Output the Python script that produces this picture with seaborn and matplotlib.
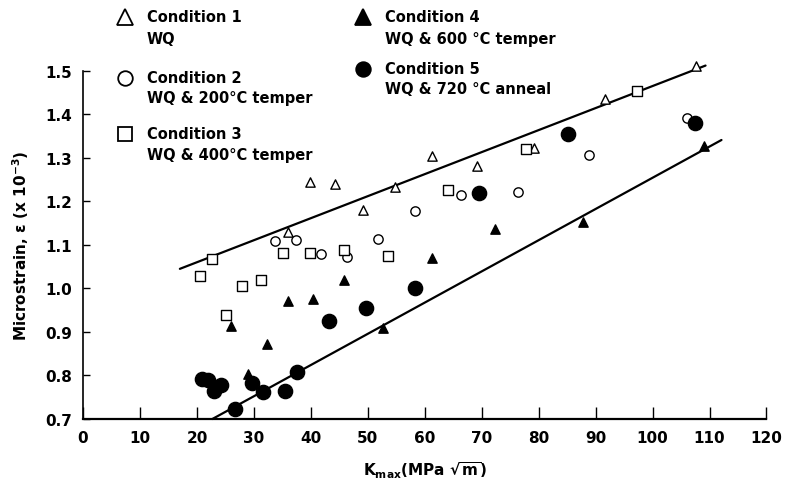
import numpy as np
import pandas as pd
import matplotlib
matplotlib.use("Agg")
import matplotlib.pyplot as plt
import seaborn as sns

# Condition 1: WQ (open triangles)
c1_k = [35.9, 39.9, 44.3, 49.2, 54.8, 61.3, 69.2, 79.1, 91.6, 107.6]
c1_e = [1.130, 1.245, 1.240, 1.180, 1.233, 1.305, 1.282, 1.323, 1.436, 1.510]

# Condition 2: WQ & 200C temper (open circles)
c2_k = [33.7, 37.4, 41.7, 46.4, 51.8, 58.2, 66.3, 76.3, 88.9, 106.0]
c2_e = [1.109, 1.111, 1.079, 1.072, 1.114, 1.178, 1.215, 1.222, 1.307, 1.392]

# Condition 3: WQ & 400C temper (open squares)
c3_k = [20.6, 22.7, 25.1, 27.9, 31.3, 35.1, 39.9, 45.9, 53.6, 64.0, 77.7, 97.2]
c3_e = [1.029, 1.068, 0.939, 1.006, 1.020, 1.082, 1.082, 1.089, 1.075, 1.226, 1.321, 1.454]

# Condition 4: WQ & 600C temper (filled triangles)
c4_k = [26.0, 29.0, 32.3, 35.9, 40.4, 45.9, 52.7, 61.3, 72.4, 87.7, 109.0]
c4_e = [0.914, 0.803, 0.872, 0.971, 0.976, 1.020, 0.909, 1.070, 1.137, 1.153, 1.328]

# Condition 5: WQ & 720C anneal (filled circles)
c5_k = [20.9, 22.0, 23.0, 24.3, 26.7, 29.7, 31.6, 35.5, 37.6, 43.1, 49.6, 58.3, 69.6, 85.2, 107.4]
c5_e = [0.792, 0.790, 0.764, 0.778, 0.723, 0.783, 0.762, 0.764, 0.808, 0.925, 0.955, 1.001, 1.220, 1.355, 1.380]

# bounding lines (end points)
upper_k = [17.0, 109.3]
upper_e = [1.045, 1.512]
lower_k = [22.7, 112.1]
lower_e = [0.700, 1.341]

x_ticks = list(range(0, 130, 10))
y_ticks = [0.7, 0.8, 0.9, 1.0, 1.1, 1.2, 1.3, 1.4, 1.5]

sns.set_style("ticks")
plt.rcParams['font.family'] = ['DejaVu Sans']
plt.rcParams['font.weight'] = 'bold'
plt.rcParams['axes.labelweight'] = 'bold'
plt.rcParams['mathtext.default'] = 'bf'
for key in ['text.color', 'axes.labelcolor', 'xtick.color', 'ytick.color', 'axes.edgecolor']:
    plt.rcParams[key] = 'black'

fig = plt.figure(figsize=(7.91, 4.85), dpi=100)
ax = fig.add_axes([0.105, 0.134, 0.864, 0.718])

styles = [
    (c1_k, c1_e, '^', 'white', 45),
    (c2_k, c2_e, 'o', 'white', 45),
    (c3_k, c3_e, 's', 'white', 42),
    (c4_k, c4_e, '^', 'black', 45),
    (c5_k, c5_e, 'o', 'black', 105),
]
for k, e, m, fc, s in styles:
    df = pd.DataFrame({'K': k, 'eps': e})
    sns.scatterplot(data=df, x='K', y='eps', marker=m, s=s, color=fc,
                    edgecolor='black', linewidth=1.0, ax=ax, zorder=3,
                    clip_on=False)

ax.plot(upper_k, upper_e, color='black', lw=1.6, zorder=2, clip_on=False)
ax.plot(lower_k, lower_e, color='black', lw=1.6, zorder=2, clip_on=False)

ax.set_xlim(0, 120)
ax.set_ylim(0.7, 1.5)
ax.set_xticks(x_ticks)
ax.set_yticks(y_ticks)
ax.set_yticklabels(['%.1f' % v for v in y_ticks])
ax.tick_params(axis='x', direction='in', length=9, width=1, labelsize=11, pad=8)
ax.tick_params(axis='y', direction='in', length=5, width=1, labelsize=11, pad=8)
for lab in ax.get_xticklabels() + ax.get_yticklabels():
    lab.set_fontweight('bold')
sns.despine(ax=ax)
ax.spines['left'].set_linewidth(1.2)
ax.spines['bottom'].set_linewidth(1.6)

ax.set_xlabel(r'K$_{\rm max}$(MPa $\sqrt{\rm m}$)', fontsize=11,
              fontweight='bold', labelpad=10)
ax.set_ylabel(r'Microstrain, $\epsilon$ (x 10$^{-3}$)', fontsize=11,
              fontweight='bold', labelpad=10)

# legend drawn by hand in axes fraction
legend = [
    (0.0615, 1.155, 1.092, '^', 'white', 'Condition 1', 'WQ'),
    (0.0615, 0.980, 0.922, 'o', 'white', 'Condition 2', 'WQ & 200°C temper'),
    (0.0615, 0.819, 0.761, 's', 'white', 'Condition 3', 'WQ & 400°C temper'),
    (0.410, 1.155, 1.092, '^', 'black', 'Condition 4', 'WQ & 600 °C temper'),
    (0.410, 1.006, 0.948, 'o', 'black', 'Condition 5', 'WQ & 720 °C anneal'),
]
for lx, ly, ly2, m, fc, t1, t2 in legend:
    ax.plot([lx], [ly], marker=m, ms=11 if m == '^' else 10.5, mfc=fc, mec='black',
            mew=1.3, transform=ax.transAxes, clip_on=False, ls='none')
    ax.text(lx + 0.032, ly, t1, transform=ax.transAxes, fontsize=10.5,
            fontweight='bold', va='center', ha='left')
    ax.text(lx + 0.032, ly2, t2, transform=ax.transAxes, fontsize=10.5,
            fontweight='bold', va='center', ha='left')

fig.savefig('out.png', dpi=100)
